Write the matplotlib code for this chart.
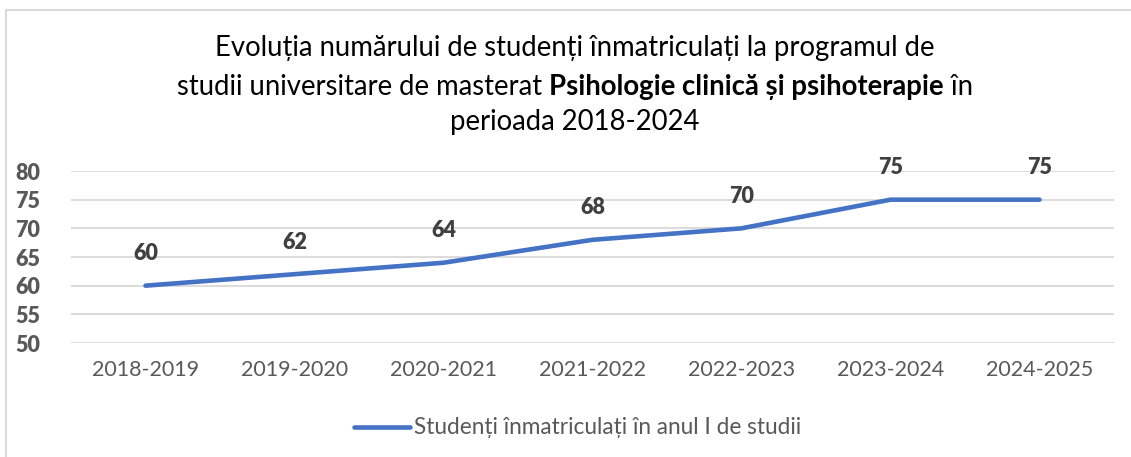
import matplotlib
matplotlib.use("Agg")
import matplotlib.pyplot as plt
from matplotlib.patches import Rectangle

categories = ["2018-2019", "2019-2020", "2020-2021", "2021-2022", "2022-2023", "2023-2024", "2024-2025"]
values = [60, 62, 64, 68, 70, 75, 75]
series_name = "Studenți înmatriculați în anul I de studii"
yticks = [50, 55, 60, 65, 70, 75, 80]

FONT = ["Lato", "DejaVu Sans"]
plt.rcParams["font.family"] = FONT
GRAY = "#595959"
BLUE = "#4472C4"

W, H = 1131, 457
fig = plt.figure(figsize=(W / 100, H / 100), dpi=100)
fig.patch.set_facecolor("white")

# chart border
fig.patches.append(Rectangle((6 / W, -0.1), 1.2, (H - 10) / H + 0.1, transform=fig.transFigure,
                             fill=False, edgecolor="#D9D9D9", linewidth=1.5))

ax = fig.add_axes([71 / W, 1 - 343 / H, (1114 - 71) / W, (343 - 171) / H])
x = list(range(len(categories)))
ax.plot(x, values, color=BLUE, lw=3.3, solid_capstyle="round", solid_joinstyle="round",
        label=series_name, zorder=3)
for xi, v in zip(x, values):
    ax.annotate(str(v), (xi, v), xytext=(0, 32), textcoords="offset pixels", ha="center",
                va="center", fontsize=15.5, fontweight="heavy", color="#404040")

ax.set_xlim(-0.5, len(categories) - 0.5)
ax.set_ylim(50, 80)
ax.set_yticks(yticks, labels=[str(v) for v in yticks], fontweight="heavy")
ax.set_xticks(x, labels=categories)
ax.grid(axis="y", color="#D9D9D9", lw=1.3)
ax.set_axisbelow(True)
for s in ax.spines.values():
    s.set_visible(False)
ax.tick_params(axis="both", length=0, colors=GRAY, labelsize=15.5)
ax.tick_params(axis="y", pad=22)
ax.tick_params(axis="x", pad=12)

leg = fig.legend(handles=ax.get_lines(), loc="center", bbox_to_anchor=(578 / W, 1 - 428 / H),
                 frameon=False, fontsize=16.3, handlelength=2.45, handletextpad=0.2)
for t in leg.get_texts():
    t.set_color(GRAY)

# title
cx = 575 / W
tsize = 19.8
fig.text(cx, 1 - 48 / H, "Evoluția numărului de studenți înmatriculați la programul de",
         ha="center", va="center", fontsize=tsize, color="black")
fig.text(cx, 1 - 122 / H, "perioada 2018-2024", ha="center", va="center", fontsize=tsize, color="black")

parts = [("studii universitare de masterat ", "normal"),
         ("Psihologie clinică și psihoterapie", "bold"),
         (" în", "normal")]
fig.canvas.draw()
r = fig.canvas.get_renderer()
texts = []
widths = []
for s, w in parts:
    t = fig.text(0, 1 - 87 / H, s, ha="left", va="center", fontsize=tsize, fontweight=w, color="black")
    widths.append(t.get_window_extent(r).width)
    texts.append(t)
total = sum(widths)
start = cx * W - total / 2
for t, wd in zip(texts, widths):
    t.set_x(start / W)
    start += wd

fig.savefig("out.png", dpi=100)
